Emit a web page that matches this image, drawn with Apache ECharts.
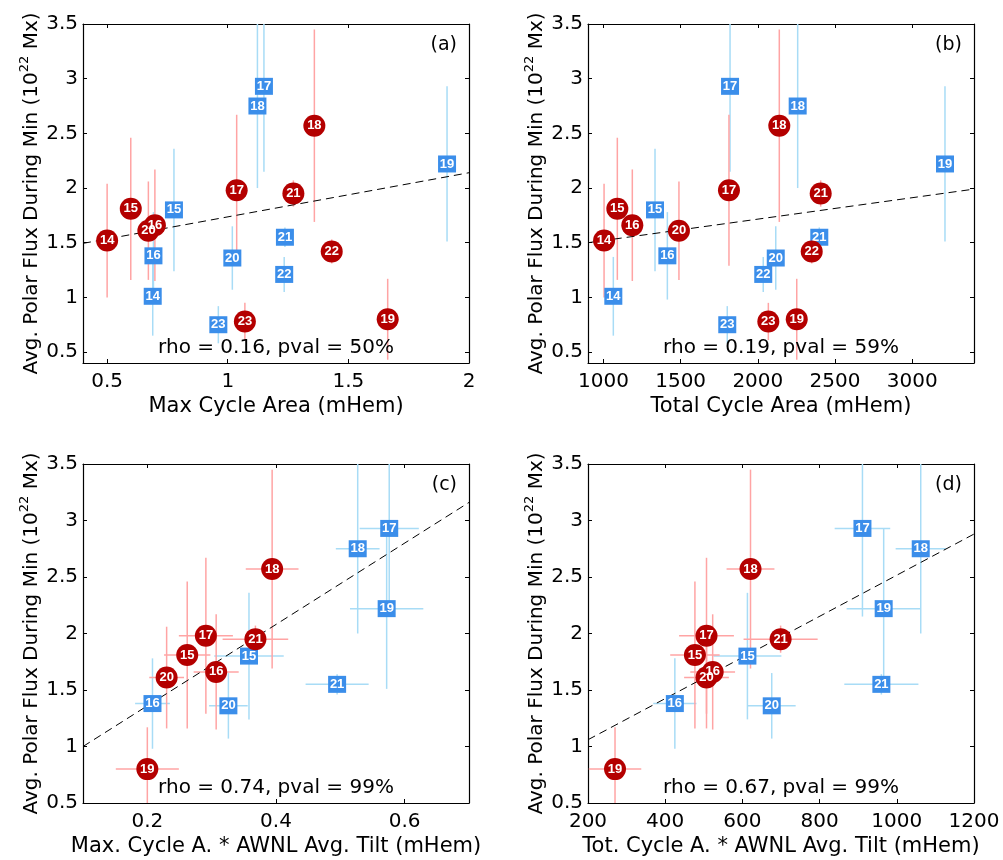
<!DOCTYPE html>
<html>
<head>
<meta charset="utf-8">
<script src="https://cdn.jsdelivr.net/npm/echarts@6.0.0/dist/echarts.min.js"></script>
<style>
  html, body { margin: 0; padding: 0; background: #fff; }
  #chart { width: 1003px; height: 860px; }
</style>
</head>
<body>
<div id="chart"></div>
<script>

// cycle numbers
const cycAll  = [14, 15, 16, 17, 18, 19, 20, 21, 22, 23];
const cycTilt = [15, 16, 17, 18, 19, 20, 21];

// avg polar flux during min (10^22 Mx) and its error, red circles / blue squares
const fluxRed     = [1.52, 1.81, 1.66, 1.98, 2.57, 0.80, 1.61, 1.95, 1.42, 0.78];
const fluxRedErr  = [0.52, 0.65, 0.51, 0.69, 0.88, 0.37, 0.45, 0.12, 0.11, 0.17];
const fluxBlue    = [1.01, 1.80, 1.38, 2.93, 2.75, 2.22, 1.36, 1.55, 1.21, 0.75];
const fluxBlueErr = [0.36, 0.56, 0.40, 0.78, 0.75, 0.71, 0.29, 0.09, 0.16, 0.17];

// (a) max cycle area (mHem), cycles 14..23
const maxAreaRed  = [0.500, 0.598, 0.698, 1.037, 1.359, 1.663, 0.671, 1.272, 1.431, 1.071];
const maxAreaBlue = [0.689, 0.777, 0.692, 1.150, 1.123, 1.909, 1.019, 1.237, 1.234, 0.961];

// (b) total cycle area (mHem), cycles 14..23
const totAreaRed  = [1004, 1090, 1187, 1813, 2139, 2252, 1489, 2407, 2349, 2068];
const totAreaBlue = [1064, 1334, 1414, 1820, 2258, 3212, 2116, 2398, 2035, 1802];

// (c) max cycle area * AWNL avg tilt, cycles 15..21
const maxTiltRed     = [0.262, 0.307, 0.291, 0.394, 0.200, 0.230, 0.368];
const maxTiltRedErr  = [0.036, 0.035, 0.042, 0.041, 0.049, 0.027, 0.051];
const maxTiltBlue    = [0.358, 0.208, 0.576, 0.527, 0.572, 0.326, 0.495];
const maxTiltBlueErr = [0.054, 0.027, 0.046, 0.034, 0.057, 0.030, 0.049];

// (d) total cycle area * AWNL avg tilt, cycles 15..21
const totTiltRed     = [477, 523, 507, 621, 270, 507, 699];
const totTiltRedErr  = [64, 58, 71, 62, 68, 58, 96];
const totTiltBlue    = [613, 425, 911, 1062, 966, 676, 960];
const totTiltBlueErr = [88, 56, 72, 65, 96, 62, 96];

// dashed fit lines (end points)
const fitA = [[0.4, 1.494], [2, 2.14]];
const fitB = [[900, 1.50], [3400, 1.99]];
const fitC = [[0.1, 1.0], [0.7, 3.16]];
const fitD = [[200, 1.06], [1200, 2.88]];

const rhoTexts  = ['rho = 0.16, pval = 50%', 'rho = 0.19, pval = 59%',
                   'rho = 0.74, pval = 99%', 'rho = 0.67, pval = 99%'];
const panelTags = ['(a)', '(b)', '(c)', '(d)'];

const xNames = ['Max Cycle Area (mHem)', 'Total Cycle Area (mHem)',
                'Max. Cycle A. * AWNL Avg. Tilt (mHem)', 'Tot. Cycle A. * AWNL Avg. Tilt (mHem)'];
const xTicks = [[0.5, 1, 1.5, 2], [1000, 1500, 2000, 2500, 3000],
                [0.2, 0.4, 0.6], [200, 400, 600, 800, 1000, 1200]];
const xRange = [[0.4, 2], [900, 3400], [0.1, 0.7], [200, 1200]];
const yRange = [[0.4, 3.5], [0.4, 3.5], [0.5, 3.5], [0.5, 3.5]];
const yTicks = [0.5, 1, 1.5, 2, 2.5, 3, 3.5];


const FONT = 'DejaVu Sans';
const RED = '#b40000', BLUE = '#3b8eea';
const RED_ERR = '#ffa4a4', BLUE_ERR = '#a8dcf6';

const grids = [
   { left: 83,  top: 24,  width: 386, height: 339 },
   { left: 588, top: 24,  width: 386, height: 339 },
   { left: 83,  top: 464, width: 386, height: 339 },
   { left: 588, top: 464, width: 386, height: 339 },
];


function fluxOf(arr, c) { return arr[cycAll.indexOf(c)]; }

// rows: [x, y, xerr, yerr, cycle]
function rowsAll(xs, ys, yerr) {
   return cycAll.map((c, k) => [xs[k], ys[k], 0, yerr[k], c]);
}
function rowsTilt(xs, xerr, ys, yerr) {
   return cycTilt.map((c, k) => [xs[k], fluxOf(ys, c), xerr[k], fluxOf(yerr, c), c]);
}

const panelRed = [
   rowsAll(maxAreaRed, fluxRed, fluxRedErr),
   rowsAll(totAreaRed, fluxRed, fluxRedErr),
   rowsTilt(maxTiltRed, maxTiltRedErr, fluxRed, fluxRedErr),
   rowsTilt(totTiltRed, totTiltRedErr, fluxRed, fluxRedErr),
];
const panelBlue = [
   rowsAll(maxAreaBlue, fluxBlue, fluxBlueErr),
   rowsAll(totAreaBlue, fluxBlue, fluxBlueErr),
   rowsTilt(maxTiltBlue, maxTiltBlueErr, fluxBlue, fluxBlueErr),
   rowsTilt(totTiltBlue, totTiltBlueErr, fluxBlue, fluxBlueErr),
];
const fits = [fitA, fitB, fitC, fitD];


function renderErr(params, api)
{
   const cs = params.coordSys;
   const x = api.value(0), y = api.value(1), ex = api.value(2), ey = api.value(3);
   const style = { stroke: api.visual('color'), lineWidth: 1.5 };
   const kids = [];

   const lo = api.coord([x, y - ey]), hi = api.coord([x, y + ey]);
   kids.push({ type: 'line', style: style, shape: {
      x1: lo[0], y1: Math.min(lo[1], cs.y + cs.height),
      x2: hi[0], y2: Math.max(hi[1], cs.y) } });

   if (ex > 0)
   {
      const l = api.coord([x - ex, y]), r = api.coord([x + ex, y]);
      kids.push({ type: 'line', style: style, shape: {
         x1: Math.max(l[0], cs.x), y1: l[1],
         x2: Math.min(r[0], cs.x + cs.width), y2: r[1] } });
   }
   return { type: 'group', children: kids };
}

// plain numbers, no thousands separator
const plain = v => String(v);


const xAxes = [], yAxes = [], series = [], graphics = [];

for (let i = 0; i < 4; i++)
{
   const tickStyle = { show: true, inside: true, length: 4, customValues: null,
                       lineStyle: { color: '#000', width: 1 } };
   const lineStyle = { show: true, onZero: false, lineStyle: { color: '#000', width: 1.2 } };

   // bottom x axis with labels
   xAxes.push({
      gridIndex: i, type: 'value', position: 'bottom',
      min: xRange[i][0], max: xRange[i][1],
      name: xNames[i], nameLocation: 'middle', nameGap: 33,
      nameTextStyle: { fontFamily: FONT, fontSize: 21, color: '#000' },
      axisLine: lineStyle,
      axisTick: Object.assign({}, tickStyle, { customValues: xTicks[i] }),
      axisLabel: { customValues: xTicks[i], formatter: plain,
                   fontFamily: FONT, fontSize: 20, color: '#000', margin: 9 },
      splitLine: { show: false },
   });
   // top x axis, ticks only
   xAxes.push({
      gridIndex: i, type: 'value', position: 'top',
      min: xRange[i][0], max: xRange[i][1],
      axisLine: lineStyle,
      axisTick: Object.assign({}, tickStyle, { customValues: xTicks[i] }),
      axisLabel: { show: false },
      splitLine: { show: false },
   });
   // left y axis with labels
   yAxes.push({
      gridIndex: i, type: 'value', position: 'left',
      min: yRange[i][0], max: yRange[i][1],
      name: '{n|Avg. Polar Flux During Min (10}{s|22}{n| Mx)}',
      nameLocation: 'middle', nameGap: 37,
      nameTextStyle: {
         color: '#000',
         rich: {
            n: { fontFamily: FONT, fontSize: 20, lineHeight: 28, color: '#000' },
            s: { fontFamily: FONT, fontSize: 13, lineHeight: 13, color: '#000', verticalAlign: 'top' },
         }
      },
      axisLine: lineStyle,
      axisTick: Object.assign({}, tickStyle, { customValues: yTicks }),
      axisLabel: { customValues: yTicks, formatter: plain,
                   fontFamily: FONT, fontSize: 20, color: '#000', margin: 5 },
      splitLine: { show: false },
   });
   // right y axis, ticks only
   yAxes.push({
      gridIndex: i, type: 'value', position: 'right',
      min: yRange[i][0], max: yRange[i][1],
      axisLine: lineStyle,
      axisTick: Object.assign({}, tickStyle, { customValues: yTicks }),
      axisLabel: { show: false },
      splitLine: { show: false },
   });

   const xi = 2 * i, yi = 2 * i;

   series.push({
      type: 'custom', xAxisIndex: xi, yAxisIndex: yi, silent: true, clip: true,
      renderItem: renderErr, itemStyle: { color: BLUE_ERR },
      data: panelBlue[i], z: 1,
   });
   series.push({
      type: 'custom', xAxisIndex: xi, yAxisIndex: yi, silent: true, clip: true,
      renderItem: renderErr, itemStyle: { color: RED_ERR },
      data: panelRed[i], z: 1,
   });
   series.push({
      type: 'line', xAxisIndex: xi, yAxisIndex: yi, silent: true,
      data: fits[i], showSymbol: false, z: 2,
      lineStyle: { color: '#000', width: 1, type: [8, 5] },
   });
   series.push({
      type: 'scatter', xAxisIndex: xi, yAxisIndex: yi, silent: true,
      data: panelBlue[i], symbol: 'rect', symbolSize: [18, 17], z: 3,
      itemStyle: { color: BLUE, opacity: 1 },
      label: { show: true, position: 'inside', formatter: p => p.value[4],
               color: '#fff', fontFamily: 'Liberation Sans', fontWeight: 'bold', fontSize: 13 },
   });
   series.push({
      type: 'scatter', xAxisIndex: xi, yAxisIndex: yi, silent: true,
      data: panelRed[i], symbol: 'circle', symbolSize: 22, z: 4,
      itemStyle: { color: RED, opacity: 1 },
      label: { show: true, position: 'inside', formatter: p => p.value[4],
               color: '#fff', fontFamily: 'Liberation Sans', fontWeight: 'bold', fontSize: 13 },
   });

   const g = grids[i];
   graphics.push({
      type: 'text', x: g.left + g.width / 2, y: g.top + g.height - 15, z: 10,
      style: { text: rhoTexts[i], fontFamily: FONT, fontSize: 20, fill: '#000',
               textAlign: 'center', textVerticalAlign: 'middle' },
   });
   graphics.push({
      type: 'text', x: g.left + g.width - 12, y: g.top + 21, z: 10,
      style: { text: panelTags[i], fontFamily: FONT, fontSize: 19, fill: '#000',
               textAlign: 'right', textVerticalAlign: 'middle' },
   });
}


const chart = echarts.init(document.getElementById('chart'), null, { renderer: 'canvas' });
chart.setOption({
   animation: false,
   backgroundColor: '#fff',
   grid: grids,
   xAxis: xAxes,
   yAxis: yAxes,
   series: series,
   graphic: graphics,
});

</script>
</body>
</html>
